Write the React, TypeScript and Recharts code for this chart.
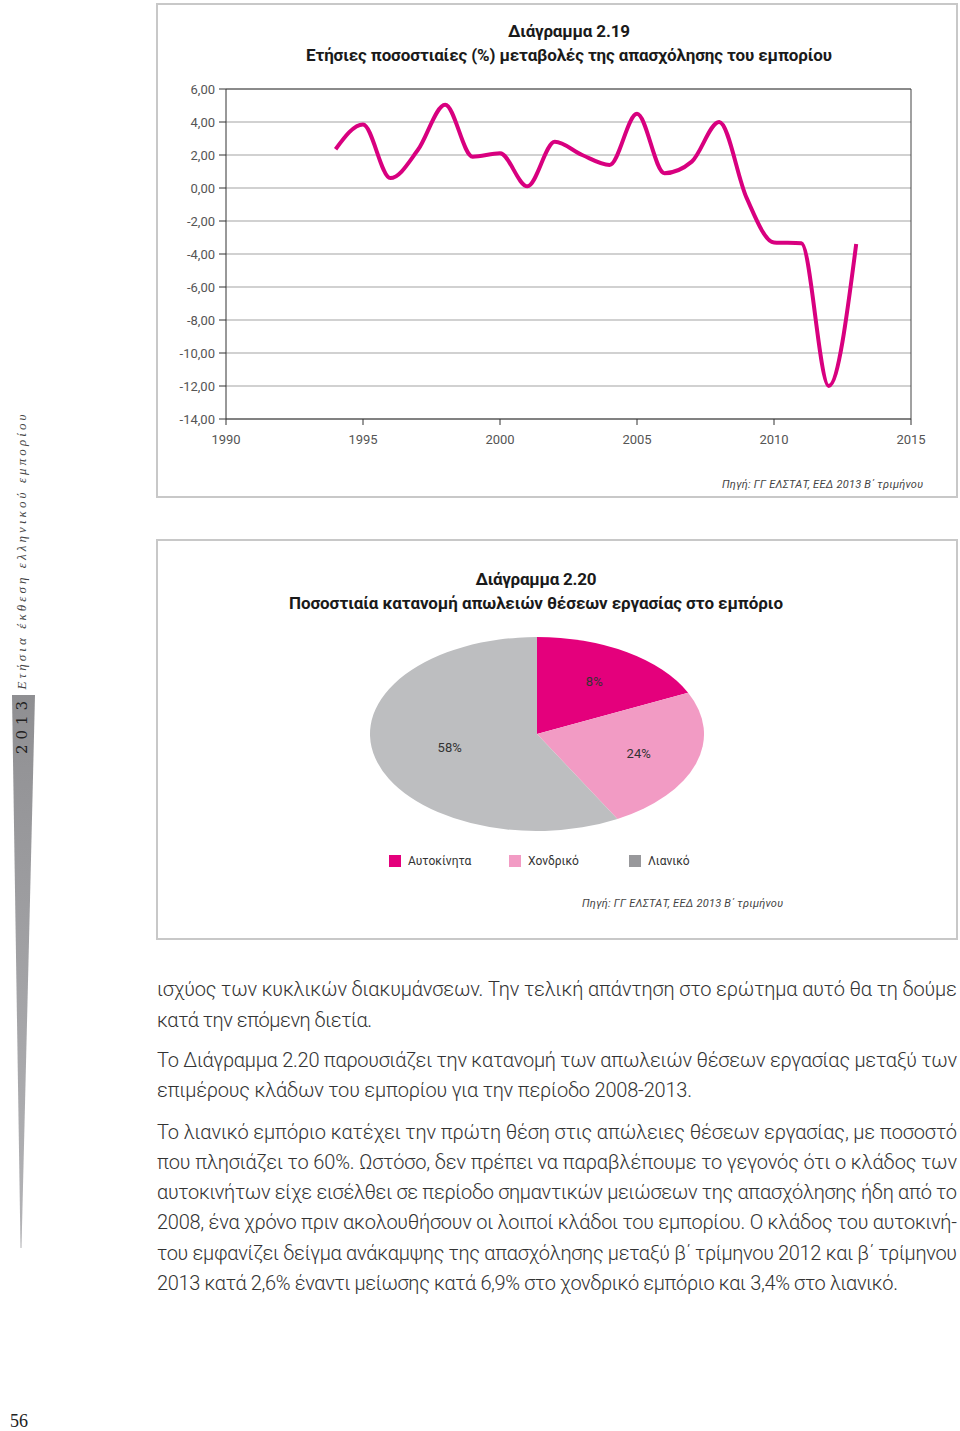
import React from 'react'
import {
  LineChart, Line, XAxis, YAxis, CartesianGrid, ReferenceLine,
  PieChart, Pie, Cell,
} from 'recharts'

// Διάγραμμα 2.19 – annual % change in trade employment
const years = [1994, 1995, 1996, 1997, 1998, 1999, 2000, 2001, 2002, 2003, 2004, 2005, 2006, 2007, 2008, 2009, 2010, 2011, 2012, 2013]
const changes = [2.35, 3.85, 0.6, 2.3, 5.05, 1.9, 2.1, 0.1, 2.8, 2.0, 1.4, 4.5, 0.9, 1.6, 4.0, -0.6, -3.3, -3.35, -12.0, -3.4]
const xTicks = [1990, 1995, 2000, 2005, 2010, 2015]
const yTicks = [-14, -12, -10, -8, -6, -4, -2, 0, 2, 4, 6]

// Διάγραμμα 2.20 – share of job losses by branch
const sectors = ['Αυτοκίνητα', 'Χονδρικό', 'Λιανικό']
const shares = [18, 24, 58]
const shareLabels = ['8%', '24%', '58%']
const sliceColors = ['#e4007c', '#f29bc4', '#bdbec0']
const legendColors = ['#e4007c', '#f29bc4', '#98989b']

const bodyLines = [
  'ισχύος των κυκλικών διακυμάνσεων. Την τελική απάντηση στο ερώτημα αυτό θα τη δούμε',
  'κατά την επόμενη διετία.',
  'Το Διάγραμμα 2.20 παρουσιάζει την κατανομή των απωλειών θέσεων εργασίας μεταξύ των',
  'επιμέρους κλάδων του εμπορίου για την περίοδο 2008-2013.',
  'Το λιανικό εμπόριο κατέχει την πρώτη θέση στις απώλειες θέσεων εργασίας, με ποσοστό',
  'που πλησιάζει το 60%. Ωστόσο, δεν πρέπει να παραβλέπουμε το γεγονός ότι ο κλάδος των',
  'αυτοκινήτων είχε εισέλθει σε περίοδο σημαντικών μειώσεων της απασχόλησης ήδη από το',
  '2008, ένα χρόνο πριν ακολουθήσουν οι λοιποί κλάδοι του εμπορίου. Ο κλάδος του αυτοκινή-',
  'του εμφανίζει δείγμα ανάκαμψης της απασχόλησης μεταξύ β΄ τρίμηνου 2012 και β΄ τρίμηνου',
  '2013 κατά 2,6% έναντι μείωσης κατά 6,9% στο χονδρικό εμπόριο και 3,4% στο λιανικό.',
]
const bodyBaselines = [996, 1027, 1067, 1097, 1139, 1169, 1199, 1229, 1260, 1290]
const bodyWidths = [800, 215, 800, 535, 800, 800, 800, 800, 800, 741]

const SOURCE = 'Πηγή: ΓΓ ΕΛΣΤΑΤ, ΕΕΔ 2013 Β΄ τριμήνου'
const FONT = 'Roboto, "Noto Sans", sans-serif'
const PIE_SQUASH = 97 / 167

const lineData = years.map((year, i) => ({ year, value: changes[i] }))
const pieData = sectors.map((name, i) => ({ name, value: shares[i] }))

const fmt = (v: number) => v.toFixed(2).replace('.', ',')

const RAD = Math.PI / 180
function PieLabel(props: any) {
  const { cx, cy, midAngle, outerRadius, index } = props
  const r = outerRadius * (index === 2 ? 0.54 : 0.64)
  const x = cx + r * Math.cos(-midAngle * RAD)
  const y = cy + r * Math.sin(-midAngle * RAD)
  return (
    <text
      x={x}
      y={y}
      textAnchor="middle"
      dominantBaseline="central"
      fontSize={13}
      fill="#333"
      fontFamily={FONT}
      transform={`translate(${x} ${y}) scale(1 ${1 / PIE_SQUASH}) translate(${-x} ${-y})`}
    >
      {shareLabels[index]}
    </text>
  )
}

export default function App() {
  return (
    <div style={{ position: 'absolute', left: 0, top: 0, width: 960, height: 1431, background: '#fff', overflow: 'hidden' }}>
      <svg width={960} height={1431} style={{ position: 'absolute', left: 0, top: 0 }}>
        <defs>
          <linearGradient id="wedge" x1="0" y1="0" x2="0" y2="1">
            <stop offset="0" stopColor="#8f8f92" />
            <stop offset="1" stopColor="#b4b4b7" />
          </linearGradient>
        </defs>
        {/* side strip */}
        <polygon points="12,695 35,695 21.5,1248 20.5,1248" fill="url(#wedge)" />
        <text transform="translate(27 725) rotate(-90)" textAnchor="middle" fontFamily="'DejaVu Serif', serif" fontSize={15} letterSpacing={5} fill="#222">2013</text>
        <text transform="translate(26 552) rotate(-90)" textAnchor="middle" fontFamily="'Liberation Serif', serif" fontStyle="italic" fontSize={13} textLength={275} fill="#444">Ετήσια έκθεση ελληνικού εμπορίου</text>
        <text x={10} y={1427} fontFamily="'Liberation Serif', serif" fontSize={18} fill="#222">56</text>

        {/* chart frames */}
        <rect x={157} y={4} width={800} height={493} fill="none" stroke="#c8c8c8" strokeWidth={2} />
        <rect x={157} y={540} width={800} height={399} fill="none" stroke="#c8c8c8" strokeWidth={2} />

        <g fontFamily={FONT} fill="#1a1a1a" fontWeight={700} fontSize={17}>
          <text x={569} y={37} textAnchor="middle" textLength={122}>Διάγραμμα 2.19</text>
          <text x={569} y={61} textAnchor="middle" textLength={526}>Ετήσιες ποσοστιαίες (%) μεταβολές της απασχόλησης του εμπορίου</text>
          <text x={536} y={585} textAnchor="middle" textLength={121}>Διάγραμμα 2.20</text>
          <text x={536} y={609} textAnchor="middle" textLength={494}>Ποσοστιαία κατανομή απωλειών θέσεων εργασίας στο εμπόριο</text>
        </g>
        <g fontFamily={FONT} fontStyle="italic" fontSize={11} fill="#444">
          <text x={722} y={488} textLength={201}>{SOURCE}</text>
          <text x={582} y={907} textLength={201}>{SOURCE}</text>
        </g>

        <g fontFamily={FONT} fontWeight={300} fontSize={20} fill="#333">
          {bodyLines.map((t, i) => (
            <text key={i} x={157} y={bodyBaselines[i]} textLength={bodyWidths[i]} lengthAdjust="spacing">{t}</text>
          ))}
        </g>
      </svg>

      <div style={{ position: 'absolute', left: 160, top: 80 }}>
        <LineChart width={790} height={380} data={lineData} margin={{ top: 9, right: 39, bottom: 11, left: 6 }}>
          <CartesianGrid vertical={false} stroke="#a3a3a3" />
          <XAxis
            type="number"
            dataKey="year"
            domain={[1990, 2015]}
            ticks={xTicks}
            interval={0}
            height={30}
            tickSize={6}
            tickMargin={10}
            stroke="#333"
            tick={{ fontSize: 13, fill: '#555', fontFamily: FONT }}
          />
          <YAxis
            domain={[-14, 6]}
            ticks={yTicks}
            interval={0}
            width={60}
            tickSize={7}
            tickMargin={4}
            tickFormatter={fmt}
            stroke="#333"
            tick={{ fontSize: 13, fill: '#555', fontFamily: FONT }}
          />
          <ReferenceLine y={6} stroke="#444" />
          <ReferenceLine x={2015} stroke="#444" />
          <Line type="monotone" dataKey="value" stroke="#d8007f" strokeWidth={4} dot={false} isAnimationActive={false} />
        </LineChart>
      </div>

      <div style={{ position: 'absolute', left: 337, top: 534, width: 400, height: 400, transform: `scaleY(${PIE_SQUASH})`, transformOrigin: '50% 50%' }}>
        <PieChart width={400} height={400} margin={{ top: 0, right: 0, bottom: 0, left: 0 }}>
          <Pie
            data={pieData}
            dataKey="value"
            cx="50%"
            cy="50%"
            outerRadius={167}
            startAngle={90}
            endAngle={-270}
            stroke="none"
            labelLine={false}
            label={PieLabel}
            isAnimationActive={false}
          >
            {pieData.map((d, i) => (
              <Cell key={d.name} fill={sliceColors[i]} />
            ))}
          </Pie>
        </PieChart>
      </div>

      <div style={{ position: 'absolute', left: 389, top: 854, display: 'flex', fontFamily: FONT, fontSize: 12, color: '#333' }}>
        {sectors.map((s, i) => (
          <div key={s} style={{ display: 'flex', alignItems: 'center', width: 120 }}>
            <span style={{ width: 12, height: 12, background: legendColors[i], marginRight: 7 }} />
            <span>{s}</span>
          </div>
        ))}
      </div>
    </div>
  )
}
